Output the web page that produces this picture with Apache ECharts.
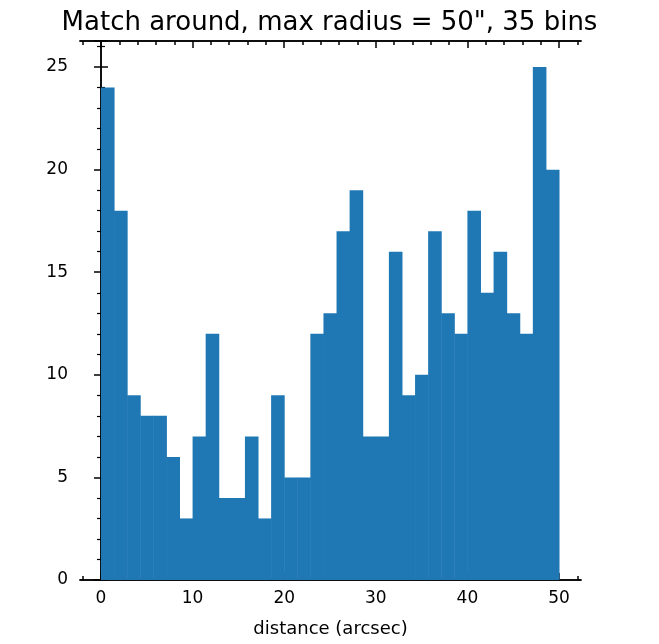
<!DOCTYPE html>
<html>
<head>
<meta charset="utf-8">
<script src="https://cdn.jsdelivr.net/npm/echarts@6/dist/echarts.min.js"></script>
<style>html,body{margin:0;padding:0;background:#fff}#c{width:659px;height:644px}</style>
</head>
<body>
<div id="c"></div>
<script>
// 直方图数据
var binStart = 0;
var binEnd = 50;
var counts = [24, 18, 9, 8, 8, 6, 3, 7, 12, 4, 4, 7, 3, 9, 5, 5, 12, 13, 17, 19, 7, 7, 16, 9, 10, 17, 13, 12, 18, 14, 16, 13, 12, 25, 20];
var xTicks = [0, 10, 20, 30, 40, 50];
var xMinorTicks = [-2, 2, 4, 6, 8, 12, 14, 16, 18, 22, 24, 26, 28, 32, 34, 36, 38, 42, 44, 46, 48, 52];

(function() {
    var myChart = echarts.init(document.getElementById('c'));
    var w = (binEnd - binStart) / counts.length;
    var data = counts.map(function(v, i) {
        return [binStart + i * w, binStart + (i + 1) * w, v];
    });
    var xMin = -2.29, xMax = 52.4;
    var font = 'DejaVu Sans';
    var lineC = '#000';

    function xAxis(pos, major, showLabel) {
        return {
            type: 'value', min: xMin, max: xMax, position: pos,
            axisLine: { show: true, onZero: false, lineStyle: { color: lineC, width: 1.5 } },
            axisTick: { show: true, inside: true, length: major ? 7 : 4,
                lineStyle: { color: lineC, width: 1.5 },
                customValues: major ? xTicks : xMinorTicks },
            axisLabel: { show: showLabel, customValues: xTicks, color: '#000',
                fontSize: 17, fontFamily: font, margin: 10 },
            splitLine: { show: false }
        };
    }
    function yAxis(pos, showLabel) {
        return {
            type: 'value', min: 0, max: 26.27, interval: 5, position: pos,
            axisLine: { show: true, lineStyle: { color: lineC, width: 1.5 } },
            axisTick: { show: true, inside: true, length: 7, lineStyle: { color: lineC, width: 1.5 } },
            minorTick: { show: true, splitNumber: 5, length: 4, lineStyle: { color: lineC, width: 1.2 } },
            axisLabel: { show: showLabel, color: '#000', fontSize: 17, fontFamily: font, margin: 12,
                showMaxLabel: false },
            splitLine: { show: false }
        };
    }

    var option = {
        animation: false,
        title: {
            text: 'Match around, max radius = 50", 35 bins',
            left: 'center', top: 5,
            textStyle: { fontSize: 26, fontWeight: 'normal', fontFamily: font, color: '#000' }
        },
        grid: { left: 80, right: 78, top: 41, bottom: 64 },
        xAxis: [
            Object.assign(xAxis('bottom', true, true), {
                name: 'distance (arcsec)', nameLocation: 'middle', nameGap: 40,
                nameTextStyle: { fontSize: 18, fontFamily: font, color: '#000' }
            }),
            xAxis('bottom', false, false),
            xAxis('top', true, false),
            xAxis('top', false, false)
        ],
        yAxis: [yAxis('left', true), yAxis('right', false)],
        series: [{
            type: 'custom',
            xAxisIndex: 0, yAxisIndex: 0,
            data: data,
            renderItem: function(params, api) {
                var p0 = api.coord([api.value(0), api.value(2)]);
                var p1 = api.coord([api.value(1), 0]);
                return {
                    type: 'rect',
                    shape: { x: p0[0], y: p0[1], width: p1[0] - p0[0] + 0.5, height: p1[1] - p0[1] },
                    style: { fill: '#1f77b4' }
                };
            }
        }]
    };
    myChart.setOption(option);
})();
</script>
</body>
</html>
